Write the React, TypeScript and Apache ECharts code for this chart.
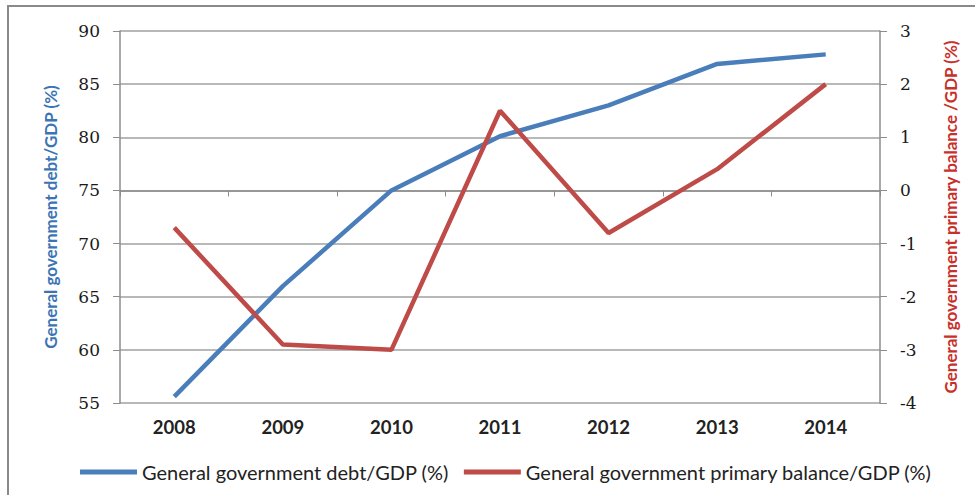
import React, { useEffect, useRef } from "react";
import * as echarts from "echarts";

const years = ["2008", "2009", "2010", "2011", "2012", "2013", "2014"];
const debtToGdp = [55.6, 66.0, 75.0, 80.1, 83.0, 86.9, 87.8];
const primaryBalance = [-0.7, -2.9, -3.0, 1.5, -0.8, 0.4, 2.0];
const debtName = "General government debt/GDP (%)";
const balanceName = "General government primary balance/GDP (%)";
const leftAxisName = "General government debt/GDP (%)";
const rightAxisName = "General government primary balance /GDP (%)";

export default function App() {
  const ref = useRef<HTMLDivElement>(null);
  useEffect(() => {
    if (!ref.current) return;
    const chart = echarts.init(ref.current, undefined, { renderer: "svg" });
    const gridColor = "#a0a0a0";
    const axisColor = "#8c8c8c";
    chart.setOption({
      animation: false,
      backgroundColor: "#ffffff",
      grid: { left: 120, right: 95, top: 31, bottom: 92, containLabel: false },
      graphic: [
        {
          type: "rect",
          shape: { x: 8, y: 6, width: 1000, height: 520 },
          style: { fill: "none", stroke: "#8a8a8a", lineWidth: 2 },
          silent: true,
          z: 100,
        },
      ],
      legend: {
        left: 75,
        top: 457,
        itemWidth: 57,
        itemHeight: 5,
        itemGap: 15,
        icon: "rect",
        textStyle: { fontFamily: "Lato", fontSize: 20, color: "#222" },
        data: [debtName, balanceName],
      },
      xAxis: {
        type: "category",
        data: years,
        boundaryGap: true,
        axisLine: { lineStyle: { color: axisColor, width: 1.5 } },
        axisTick: { show: true, length: 6, lineStyle: { color: axisColor } },
        axisLabel: {
          margin: 14,
          fontFamily: "Lato",
          fontWeight: "bold",
          fontSize: 18.5,
          color: "#222",
        },
      },
      yAxis: [
        {
          type: "value",
          min: 55,
          max: 90,
          interval: 5,
          position: "left",
          name: leftAxisName,
          nameLocation: "middle",
          nameRotate: 90,
          nameGap: 61,
          nameTextStyle: { fontFamily: "Lato", fontWeight: "bold", fontSize: 17, color: "#3b74b4" },
          axisLine: { show: true, lineStyle: { color: axisColor, width: 1.5 } },
          axisTick: { show: true, length: 7, lineStyle: { color: axisColor } },
          axisLabel: { margin: 20, fontFamily: "DejaVu Serif", fontSize: 17, color: "#1a1a1a" },
          splitLine: { show: true, lineStyle: { color: gridColor, width: 1.5 } },
        },
        {
          type: "value",
          min: -4,
          max: 3,
          interval: 1,
          position: "right",
          name: rightAxisName,
          nameLocation: "middle",
          nameRotate: 90,
          nameGap: 62,
          nameTextStyle: { fontFamily: "Lato", fontWeight: "bold", fontSize: 17, color: "#c8302a" },
          axisLine: { show: true, lineStyle: { color: axisColor, width: 1.5 } },
          axisTick: { show: true, length: 7, lineStyle: { color: axisColor } },
          axisLabel: { margin: 20, fontFamily: "DejaVu Serif", fontSize: 17, color: "#1a1a1a" },
          splitLine: { show: false },
        },
      ],
      series: [
        {
          name: debtName,
          type: "line",
          yAxisIndex: 0,
          data: debtToGdp,
          showSymbol: false,
          symbol: "none",
          lineStyle: { color: "#4a7ebb", width: 4.5 },
          itemStyle: { color: "#4a7ebb" },
        },
        {
          name: balanceName,
          type: "line",
          yAxisIndex: 1,
          data: primaryBalance,
          showSymbol: false,
          symbol: "none",
          lineStyle: { color: "#be4b48", width: 4.5 },
          itemStyle: { color: "#be4b48" },
        },
      ],
    });
    return () => chart.dispose();
  }, []);
  return (
    <div
      ref={ref}
      style={{ position: "fixed", left: 0, top: 0, width: 975, height: 495 }}
    />
  );
}
